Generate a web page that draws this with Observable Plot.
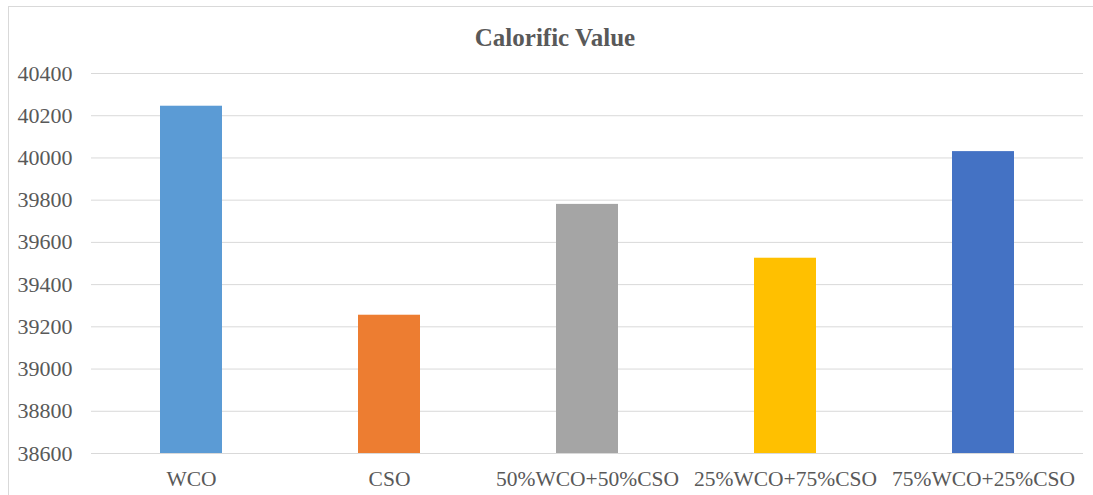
<!DOCTYPE html>
<html>
<head>
<meta charset="utf-8">
<script src="https://cdn.jsdelivr.net/npm/d3@7"></script>
<script src="https://cdn.jsdelivr.net/npm/@observablehq/plot@0.6"></script>
<style>
  html, body { margin: 0; padding: 0; background: #fff; overflow: hidden; }
  #frame { position: absolute; left: 8px; top: 6px; width: 1094px; height: 500px;
           border-left: 1px solid #d9d9d9; border-top: 1px solid #d9d9d9; box-sizing: border-box; }
  #title { position: absolute; top: 25px; width: 1094px; text-align: center; line-height: 25px;
           font-family: "Liberation Serif", serif; font-weight: bold; font-size: 25px; color: #595959; }
  #chart { position: absolute; left: 0; top: 60px; }
</style>
</head>
<body>
<div id="frame"></div>
<div id="title" style="left:8px">Calorific Value</div>
<div id="chart"></div>
<script>
const categories = ["WCO", "CSO", "50%WCO+50%CSO", "25%WCO+75%CSO", "75%WCO+25%CSO"];
const values = [40245, 39255, 39780, 39525, 40030];
const colors = ["#5B9BD5", "#ED7D31", "#A5A5A5", "#FFC000", "#4472C4"];
const yTicks = [38600, 38800, 39000, 39200, 39400, 39600, 39800, 40000, 40200, 40400];
const yMin = 38600, yMax = 40400;

const data = categories.map((c, i) => ({category: c, value: values[i], color: colors[i]}));

const chart = Plot.plot({
  width: 1093,
  height: 435,
  marginTop: 13,
  marginBottom: 42,
  marginLeft: 91,
  marginRight: 10,
  style: {fontFamily: "Liberation Serif", fontSize: "21px", color: "#595959", background: "transparent"},
  x: {domain: categories, paddingInner: 0.6875, paddingOuter: 0.34375, label: null},
  y: {domain: [yMin, yMax], label: null},
  marks: [
    Plot.gridY(yTicks, {stroke: "#d9d9d9", strokeOpacity: 1, strokeWidth: 1}),
    Plot.barY(data, {x: "category", y1: () => yMin, y2: "value", fill: "color"}),
    Plot.axisY(yTicks, {tickSize: 0, tickPadding: 19, tickFormat: d => String(d), fontSize: 22}),
    Plot.axisX({tickSize: 0, tickPadding: 17, fontSize: 21.5})
  ]
});
document.getElementById("chart").appendChild(chart);
</script>
</body>
</html>
